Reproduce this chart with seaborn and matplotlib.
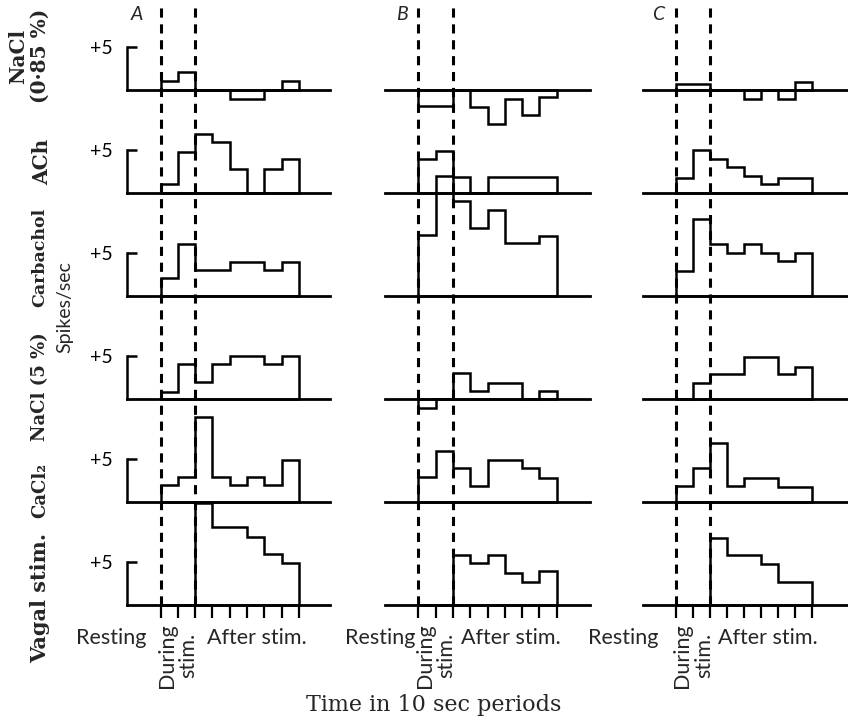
import numpy as np
import pandas as pd
import matplotlib
matplotlib.use("Agg")
import matplotlib.pyplot as plt
import seaborn as sns

# change in spikes/sec from resting rate, 10 sec periods:
# 2 periods during stimulation, then 6 after. Each row: (A, B, C)
nacl_085 = ([1.0, 2.1, 0, 0, -1.0, -1.0, 0, 1.0],
            [-1.9, -1.9, 0, -2.0, -4.0, -1.1, -2.9, -0.8],
            [0.7, 0.7, 0, 0, -1.1, 0, -1.1, 0.9])
ach = ([1.1, 4.8, 6.9, 5.9, 2.8, 0, 2.8, 3.9],
       [3.9, 4.9, 1.9, 0, 1.9, 1.9, 1.9, 1.9],
       [1.8, 5.0, 4.0, 3.0, 2.0, 1.0, 1.8, 1.8])
carbachol = ([2.1, 6.0, 3.0, 3.0, 4.0, 4.0, 3.0, 4.0],
             [7.1, 13.9, 11.1, 7.9, 10.0, 6.2, 6.2, 7.0],
             [2.9, 9.0, 6.1, 5.0, 6.1, 5.0, 4.1, 5.0])
nacl_5 = ([0.85, 4.1, 2.0, 4.1, 5.0, 5.0, 4.1, 5.0],
          [-1.1, 0, 3.0, 0.9, 1.9, 1.9, 0, 0.9],
          [0, 1.9, 2.9, 2.9, 4.85, 4.85, 2.9, 3.75])
cacl2 = ([2.0, 2.9, 9.9, 2.9, 2.0, 2.9, 2.0, 4.85],
         [2.9, 5.9, 4.0, 1.9, 4.9, 4.9, 3.9, 2.8],
         [1.9, 3.9, 6.9, 1.9, 2.75, 2.75, 1.8, 1.8])
vagal = ([0, 0, 11.9, 9.1, 9.1, 7.9, 5.9, 4.9],
         [0, 0, 5.8, 4.85, 5.8, 3.75, 2.7, 3.9],
         [0, 0, 7.8, 5.8, 5.8, 4.8, 2.7, 2.7])

rows = [nacl_085, ach, carbachol, nacl_5, cacl2, vagal]
row_labels = ["NaCl\n(0·85 %)", "ACh", "Carbachol", "NaCl (5 %)", "CaCl₂", "Vagal stim."]
panel_names = ["A", "B", "C"]
n_periods = 8
stim_edges = [0, 2]

# layout in pixels of the 848x718 picture
W, H = 848, 718
col_left = [127, 385, 643]
col_right = [330, 590, 848]
col_x0 = [160.5, 418.3, 676]
col_bin = [17.3, 17.3, 17.06]
base0, row_gap, unit = 90, 103, 8.6
y_lo, y_hi = -3, 9
label_xy = [(29, 56), (42, 162), (40, 257), (40, 387), (40, 490), (40, 598)]
label_size = [14.5, 14.5, 12.5, 13, 13, 15]
resting_x = [-2.85, -2.2, -3.1]
after_x = [5.55, 5.35, 5.4]

sns.set_theme(style="white")
SERIF = ["DejaVu Serif"]
SANS = ["Lato", "DejaVu Sans"]

fig = plt.figure(figsize=(W / 100, H / 100), dpi=100)

edges = np.arange(n_periods + 1)
centers = edges[:-1] + 0.5

for c in range(3):
    left, right = col_left[c], col_right[c]
    xlim = ((left - col_x0[c]) / col_bin[c], (right - col_x0[c]) / col_bin[c])

    # dashed markers of stimulation period spanning all rows
    bottom_px = base0 + 5 * row_gap
    ov = fig.add_axes([left / W, 1 - bottom_px / H, (right - left) / W, (bottom_px - 3) / H])
    ov.set_xlim(*xlim)
    ov.set_ylim(0, 1)
    for e in stim_edges:
        ov.axvline(e, color="black", lw=2.2, ls=(0, (3, 2.2)))
    ov.axis("off")
    ov.patch.set_alpha(0)

    for r, row in enumerate(rows):
        base = base0 + r * row_gap
        ax = fig.add_axes([left / W, 1 - (base - y_lo * unit) / H,
                           (right - left) / W, (y_hi - y_lo) * unit / H])
        df = pd.DataFrame({"period": centers, "rate": row[c]})
        sns.histplot(data=df, x="period", weights="rate", binwidth=1,
                     binrange=(0, n_periods),
                     element="step", fill=True, facecolor="none",
                     color="black", linewidth=1.8, clip_on=False,
                     joinstyle="miter", ax=ax)
        ax.set_xlim(*xlim)
        ax.set_ylim(y_lo, y_hi)
        ax.set_xlabel("")
        ax.set_ylabel("")
        ax.patch.set_alpha(0)
        for s in ["top", "right"]:
            ax.spines[s].set_visible(False)
        ax.spines["bottom"].set_position(("data", 0))
        ax.spines["bottom"].set_linewidth(2.0)
        ax.spines["bottom"].set_color("black")

        if c == 0:
            ax.spines["left"].set_bounds(0, 5)
            ax.spines["left"].set_linewidth(1.8)
            ax.spines["left"].set_color("black")
            ax.set_yticks([5], labels=["+5"])
            ax.tick_params(axis="y", direction="in", length=7, width=1.8,
                           pad=10, left=True, labelsize=14, colors="black")
            for t in ax.get_yticklabels():
                t.set_family(SANS)
        else:
            ax.spines["left"].set_visible(False)
            ax.set_yticks([])

        if r == len(rows) - 1:
            ax.set_xticks(edges)
            ax.tick_params(axis="x", direction="out", length=9, width=1.6,
                           bottom=True, labelbottom=False, color="black")
            ax.text(resting_x[c], -3.85, "Resting", family=SANS, fontsize=15.5,
                    ha="center", va="center")
            ax.text(1.0, -5.9, "During\nstim.", family=SANS, fontsize=15.5,
                    rotation=90, ha="center", va="center",
                    multialignment="center", linespacing=1.12)
            ax.text(after_x[c], -3.85, "After stim.", family=SANS, fontsize=15.5,
                    ha="center", va="center")
        else:
            ax.set_xticks([])

letter_x = [137, 402, 658]
for c, name in enumerate(panel_names):
    fig.text(letter_x[c] / W, 1 - 15 / H, name, family=SANS, style="italic",
             fontsize=14, ha="center", va="center")

for (lx, ly), lab, fs in zip(label_xy, row_labels, label_size):
    fig.text(lx / W, 1 - ly / H, lab, family=SERIF, weight="bold", fontsize=fs,
             rotation=90, ha="center", va="center", multialignment="center",
             linespacing=1.1)

fig.text(65 / W, 1 - 307 / H, "Spikes/sec", family=SANS, fontsize=14,
         rotation=90, ha="center", va="center")
fig.text(434 / W, 1 - 705 / H, "Time in 10 sec periods", family=SERIF,
         fontsize=16, ha="center", va="center")

fig.savefig("out.png", dpi=100)
